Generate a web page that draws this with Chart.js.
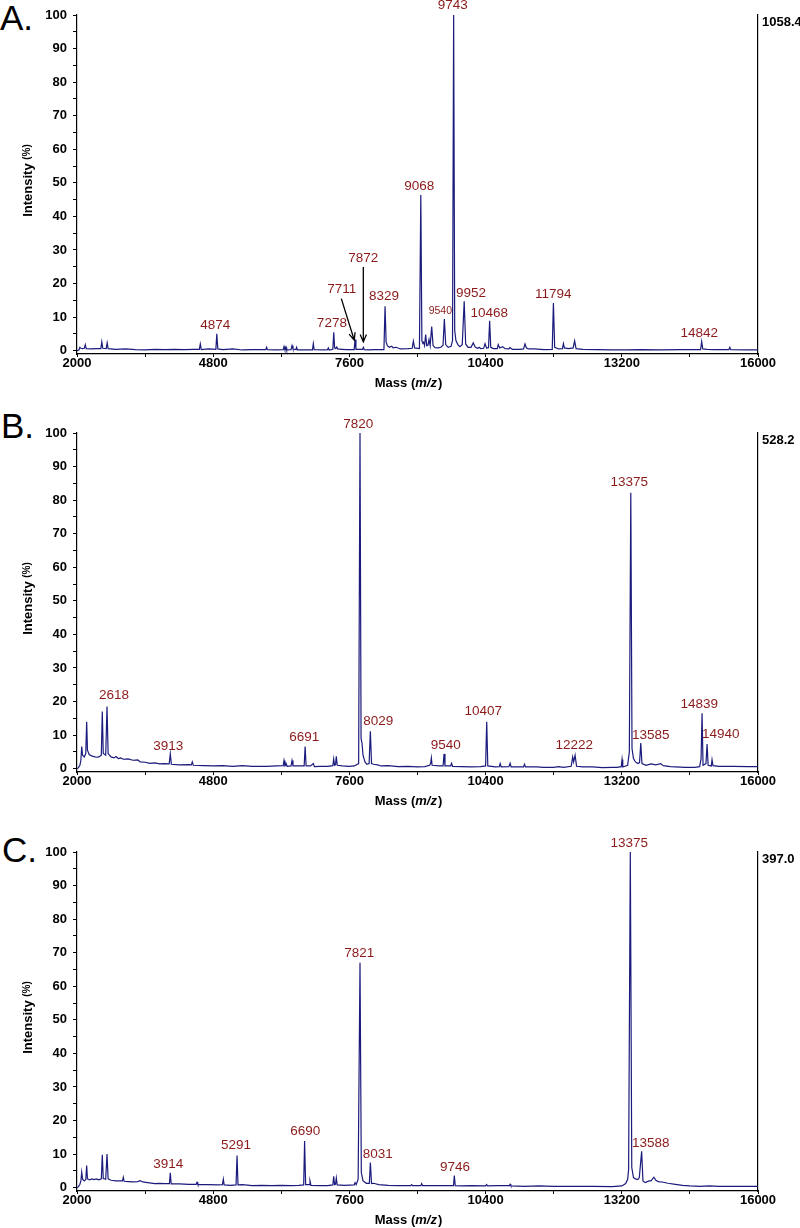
<!DOCTYPE html>
<html>
<head>
<meta charset="utf-8">
<script src="https://cdn.jsdelivr.net/npm/chart.js@4.4.1/dist/chart.umd.min.js"></script>
<style>
  html, body { margin: 0; padding: 0; background: #fff; width: 800px; height: 1228px; overflow: hidden; }
  .panel { position: absolute; left: 0; width: 800px; height: 418px; }
  .letter { position: absolute; left: 0; font: 35px "Liberation Sans", Arial, sans-serif; line-height: 35px; color: #000; }
</style>
</head>
<body>
<div class="letter" style="top:0px">A.</div>
<div class="letter" style="top:408px;left:1px">B.</div>
<div class="letter" style="top:832px;left:2px">C.</div>
<div class="panel" style="top:0px"><canvas id="cA" width="800" height="418"></canvas></div>
<div class="panel" style="top:418px"><canvas id="cB" width="800" height="418"></canvas></div>
<div class="panel" style="top:837px"><canvas id="cC" width="800" height="418"></canvas></div>
<script>
// ---- axis ticks ----
const xTickValues = [2000, 3400, 4800, 6200, 7600, 9000, 10400, 11800, 13200, 14600, 16000];
const xTickLabels = [2000, 4800, 7600, 10400, 13200, 16000];
const yTickValues = [0, 5, 10, 15, 20, 25, 30, 35, 40, 45, 50, 55, 60, 65, 70, 75, 80, 85, 90, 95, 100];
const yTickLabels = [0, 10, 20, 30, 40, 50, 60, 70, 80, 90, 100];

// ---- spectrum A: [mass, intensity %] ----
const spectrumA = [[2000,0],[2040,0.2],[2060,1.0],[2080,0.7],[2120,0.6],[2150,0.7],[2170,1.8],[2190,0.6],[2300,0.5],[2400,0.6],[2490,0.6],[2510,2.6],[2530,0.7],[2600,0.6],[2620,2.3],[2640,0.6],[2800,0.4],[3000,0.5],[3200,0.3],[3400,0.2],[3600,0.4],[3800,0.3],[4000,0.4],[4200,0.3],[4400,0.4],[4515,0.4],[4535,2.0],[4555,0.3],[4700,0.5],[4855,0.4],[4874,5.0],[4895,0.5],[5000,0.3],[5200,0.5],[5400,0.2],[5600,0.3],[5880,0.3],[5898,1.0],[5915,0.3],[6100,0.2],[6240,0.3],[6256,1.2],[6272,0.3],[6285,0.3],[6297,1.0],[6310,0.2],[6400,0.3],[6420,1.5],[6440,0.5],[6500,0.3],[6515,1.0],[6530,0.2],[6700,0.2],[6840,0.2],[6858,2.1],[6875,0.3],[7100,0.2],[7150,0.3],[7167,0.8],[7185,0.2],[7260,0.4],[7278,5.5],[7296,0.8],[7320,0.6],[7340,1.1],[7360,0.5],[7450,0.4],[7550,0.3],[7698,0.3],[7716,3.3],[7734,0.4],[7870,0.4],[7888,1.0],[7906,0.3],[8000,0.2],[8100,0.3],[8200,0.3],[8310,0.3],[8333,13.2],[8355,2.5],[8380,1.5],[8420,1.0],[8470,1.3],[8500,0.8],[8560,1.0],[8650,0.5],[8800,0.6],[8890,0.7],[8915,2.8],[8940,0.8],[9040,0.6],[9068,46.4],[9090,3.0],[9110,2.2],[9125,2.5],[9145,1.5],[9168,4.8],[9190,1.5],[9215,1.6],[9237,3.3],[9260,1.5],[9292,7.2],[9320,1.5],[9360,0.9],[9420,0.8],[9480,1.0],[9525,1.6],[9552,9.4],[9580,1.8],[9630,1.0],[9690,1.3],[9720,3.0],[9743,100],[9765,6.0],[9790,3.0],[9830,1.8],[9870,1.2],[9920,1.8],[9960,14.7],[9990,2.0],[10040,1.0],[10100,1.0],[10146,2.3],[10190,1.0],[10240,0.7],[10270,1.0],[10300,0.6],[10360,0.7],[10388,2.1],[10420,0.8],[10460,0.9],[10483,8.9],[10506,1.0],[10560,0.6],[10640,0.6],[10660,1.8],[10690,0.8],[10750,1.2],[10800,0.6],[10880,0.5],[10900,0.9],[10950,0.4],[11100,0.4],[11180,0.5],[11210,2.0],[11240,0.8],[11280,0.5],[11400,0.5],[11600,0.3],[11770,0.4],[11794,14.2],[11820,1.0],[11900,0.5],[11980,0.6],[12000,2.1],[12020,0.8],[12100,0.6],[12200,0.8],[12230,2.9],[12260,0.6],[12400,0.4],[12700,0.3],[13000,0.2],[13300,0.2],[13600,0.3],[14000,0.2],[14400,0.3],[14820,0.3],[14842,2.7],[14865,0.5],[14950,0.4],[15100,0.3],[15400,0.3],[15420,1.0],[15440,0.3],[15800,0.2],[16000,0.2]];

// ---- spectrum B ----
const spectrumB = [[2000,0],[2030,0.3],[2060,1.0],[2080,2.5],[2097,6.6],[2115,4.0],[2150,3.5],[2180,4.5],[2199,14.0],[2215,5.5],[2250,4.2],[2300,3.8],[2350,3.6],[2400,3.4],[2450,3.5],[2500,4.0],[2520,17.0],[2540,4.5],[2590,4.0],[2617,18.5],[2640,4.5],[2700,3.5],[2760,3.2],[2800,3.6],[2850,3.0],[2900,3.2],[2950,2.8],[3050,2.9],[3150,2.5],[3250,2.6],[3300,2.0],[3400,1.9],[3500,1.6],[3600,1.7],[3700,1.4],[3800,1.5],[3895,1.4],[3918,4.4],[3940,1.3],[4100,1.1],[4300,1.2],[4350,1.1],[4370,2.0],[4390,1.0],[4600,0.9],[4800,0.8],[5000,0.9],[5200,0.7],[5400,0.9],[5600,0.7],[5900,0.7],[6100,0.8],[6240,0.9],[6256,2.4],[6275,0.8],[6290,1.0],[6300,1.5],[6320,0.7],[6400,0.8],[6420,2.4],[6440,0.8],[6670,0.8],[6690,6.6],[6710,0.8],[6800,0.8],[6858,1.5],[6880,0.6],[7000,0.7],[7150,0.7],[7260,0.9],[7277,2.9],[7295,1.0],[7315,1.2],[7331,3.7],[7350,1.0],[7450,0.8],[7600,0.7],[7700,0.8],[7790,1.5],[7818,100],[7840,9.0],[7860,7.5],[7880,4.0],[7920,2.0],[7960,1.3],[8005,1.5],[8031,11.1],[8055,1.5],[8100,1.3],[8180,1.1],[8250,0.8],[8400,0.9],[8600,0.6],[8800,0.7],[9000,0.5],[9150,0.6],[9250,1.0],[9270,1.6],[9285,3.2],[9300,1.0],[9450,0.8],[9525,0.8],[9546,4.4],[9565,0.8],[9680,0.8],[9700,1.6],[9720,0.7],[9900,0.6],[10100,0.5],[10300,0.6],[10400,0.8],[10423,14.0],[10445,0.8],[10600,0.5],[10680,0.6],[10700,1.5],[10720,0.5],[10880,0.6],[10904,1.6],[10925,0.5],[11180,0.5],[11200,1.3],[11220,0.5],[11450,0.5],[11600,0.4],[11800,0.4],[11900,0.6],[12000,0.4],[12160,0.7],[12190,3.5],[12210,2.0],[12240,4.0],[12270,0.7],[12400,0.5],[12600,0.5],[12800,0.3],[13000,0.4],[13100,0.4],[13190,0.6],[13205,2.7],[13220,0.5],[13320,1.0],[13355,5.0],[13385,82.2],[13410,6.0],[13440,3.0],[13480,2.0],[13530,1.5],[13565,1.8],[13590,7.6],[13615,1.5],[13700,1.0],[13800,1.4],[13900,1.1],[14000,1.5],[14050,0.9],[14200,0.6],[14500,0.4],[14700,0.4],[14800,0.6],[14830,3.0],[14850,16.5],[14870,1.0],[14930,1.5],[14953,7.3],[14975,1.0],[15040,0.8],[15055,2.7],[15075,0.9],[15200,0.7],[15500,0.7],[15800,0.6],[16000,0.6]];

// ---- spectrum C ----
const spectrumC = [[2000,0],[2030,0.3],[2060,1.0],[2080,2.0],[2097,4.6],[2115,2.5],[2150,2.0],[2180,2.4],[2199,6.6],[2215,2.6],[2260,2.3],[2300,2.6],[2350,2.4],[2400,2.6],[2450,2.3],[2500,2.6],[2520,9.8],[2540,2.7],[2590,2.5],[2617,10.0],[2640,2.6],[2700,2.2],[2800,2.0],[2935,2.0],[2952,3.1],[2970,1.9],[3050,1.8],[3150,1.7],[3250,1.8],[3300,2.1],[3350,1.7],[3450,1.5],[3600,1.2],[3700,1.3],[3800,1.2],[3900,1.2],[3918,4.4],[3936,1.1],[4100,1.1],[4300,1.0],[4450,1.0],[4467,1.6],[4485,0.9],[4700,0.9],[4900,0.8],[4990,0.9],[5008,2.5],[5025,0.8],[5150,0.7],[5270,0.8],[5290,9.6],[5310,0.8],[5400,0.9],[5600,0.6],[5800,0.7],[6000,0.6],[6200,0.7],[6400,0.6],[6560,0.7],[6660,0.8],[6679,13.9],[6700,0.9],[6770,0.9],[6790,2.0],[6810,0.7],[7000,0.6],[7150,0.6],[7260,0.8],[7277,3.4],[7295,0.9],[7315,1.0],[7331,2.9],[7350,0.8],[7500,0.7],[7700,0.8],[7716,1.5],[7740,0.9],[7780,2.5],[7818,67],[7845,4.5],[7880,2.0],[7950,1.3],[8010,1.3],[8031,7.5],[8055,1.2],[8100,1.3],[8200,0.9],[8400,0.7],[8600,0.6],[8860,0.6],[8880,0.9],[8900,0.6],[9070,0.6],[9086,1.2],[9105,0.6],[9300,0.6],[9500,0.6],[9740,0.6],[9757,3.6],[9775,0.6],[9900,0.5],[10100,0.6],[10400,0.5],[10420,0.9],[10440,0.5],[10650,0.6],[10890,0.6],[10904,1.0],[10920,0.5],[11200,0.4],[11500,0.5],[11800,0.4],[12200,0.4],[12600,0.4],[13000,0.3],[13200,0.5],[13280,1.2],[13320,2.5],[13340,5.4],[13375,100],[13405,6.0],[13440,3.0],[13480,2.6],[13530,2.4],[13560,3.0],[13608,10.8],[13635,2.0],[13680,1.5],[13760,2.0],[13800,2.0],[13860,3.1],[13900,2.2],[13950,1.8],[14050,1.6],[14150,1.3],[14300,1.0],[14450,0.7],[14600,0.5],[14800,0.4],[15000,0.5],[15200,0.4],[15600,0.4],[16000,0.4]];

// ---- peak annotations: [text, mass at label centre, intensity at label centre, small?] ----
const peakLabelsA = [['4874',4843,7.7],['7278',7240,8.2],['7711',7442,18.2],['7872',7886,27.6],['8329',8311,16.2],['9068',9037,48.9],['9743',9724,102.8],['9540',9469,11.7,1],['9952',10100,17.0],['10468',10476,11.2],['11794',11792,16.9],['14842',14793,5.3]];
const peakLabelsB = [['2618',2761,21.8],['3913',3877,6.6],['6691',6673,9.3],['7820',7783,102.7],['8029',8194,14.0],['9540',9580,7.1],['10407',10353,17.2],['12222',12224,7.1],['13375',13354,85.2],['13585',13794,9.9],['14839',14793,19.3],['14940',15233,10.3]];
const peakLabelsC = [['3914',3877,6.9],['5291',5269,12.5],['6690',6693,16.9],['7821',7804,69.8],['8031',8182,9.8],['9746',9771,6.1],['13375',13354,102.6],['13588',13794,13.2]];
// arrows: [massFrom, intFrom, massTo, intTo]
const arrowsA = [[7434,15.5,7700,3.1],[7886,24.9,7886,2.6]];

// right-hand absolute intensity labels
const maxIntensity = ['1058.4', '528.2', '397.0'];

const FONT = '"Liberation Sans", Arial, sans-serif';
const LINE_COLOR = '#1b1b7d';
const LABEL_COLOR = '#8b1a1a';

function annotPlugin(labels, arrows, rightText) {
  return {
    id: 'annot',
    afterDraw(chart) {
      const ctx = chart.ctx, xs = chart.scales.x, ys = chart.scales.y, a = chart.chartArea;
      ctx.save();
      // peak labels
      ctx.fillStyle = LABEL_COLOR;
      ctx.textAlign = 'center';
      ctx.textBaseline = 'middle';
      labels.forEach(l => {
        ctx.font = (l[3] ? '10.5px ' : '13.5px ') + FONT;
        ctx.fillText(l[0], xs.getPixelForValue(l[1]), ys.getPixelForValue(l[2]));
      });
      // arrows
      ctx.strokeStyle = '#000';
      ctx.lineWidth = 1.3;
      arrows.forEach(r => {
        const x1 = xs.getPixelForValue(r[0]), y1 = ys.getPixelForValue(r[1]);
        const x2 = xs.getPixelForValue(r[2]), y2 = ys.getPixelForValue(r[3]);
        const ang = Math.atan2(y2 - y1, x2 - x1), L = 8, w = 0.4;
        ctx.beginPath();
        ctx.moveTo(x1, y1); ctx.lineTo(x2, y2);
        ctx.moveTo(x2 - L * Math.cos(ang - w), y2 - L * Math.sin(ang - w));
        ctx.lineTo(x2, y2);
        ctx.lineTo(x2 - L * Math.cos(ang + w), y2 - L * Math.sin(ang + w));
        ctx.stroke();
      });
      // right label
      ctx.fillStyle = '#000';
      ctx.font = 'bold 13px ' + FONT;
      ctx.textAlign = 'left';
      ctx.fillText(rightText, a.right + 4, a.top + 7);
      // y title
      ctx.save();
      ctx.translate(28, (a.top + a.bottom) / 2 - 4);
      ctx.rotate(-Math.PI / 2);
      const f1 = 'bold 13px ' + FONT, f2 = 'bold 10px ' + FONT;
      ctx.font = f1; const w1 = ctx.measureText('Intensity ').width;
      ctx.font = f2; const w2 = ctx.measureText('(%)').width;
      let sx = -(w1 + w2) / 2;
      ctx.textAlign = 'left';
      ctx.font = f1; ctx.fillText('Intensity ', sx, 0);
      ctx.font = f2; ctx.fillText('(%)', sx + w1, -1);
      ctx.restore();
      // x title
      const p1 = 'Mass (', p2 = 'm/z', p3 = ')';
      const fb = 'bold 13px ' + FONT, fi = 'italic bold 13px ' + FONT;
      ctx.font = fb; const a1 = ctx.measureText(p1).width, a3 = ctx.measureText(p3).width;
      ctx.font = fi; const a2 = ctx.measureText(p2).width;
      let tx = 408 - (a1 + a2 + a3) / 2, ty = a.bottom + 29;
      ctx.textBaseline = 'middle';
      ctx.font = fb; ctx.fillText(p1, tx, ty);
      ctx.font = fi; ctx.fillText(p2, tx + a1, ty);
      ctx.font = fb; ctx.fillText(p3, tx + a1 + a2 + 1, ty);
      ctx.restore();
    }
  };
}

function makeChart(id, spectrum, labels, arrows, rightText) {
  return new Chart(document.getElementById(id), {
    type: 'scatter',
    data: { datasets: [{ data: spectrum, showLine: true, borderColor: LINE_COLOR, borderWidth: 1.2, pointRadius: 0, tension: 0, clip: 3 }] },
    options: {
      responsive: false, animation: false, devicePixelRatio: 1,
      layout: { padding: { top: 15, left: 0, right: 0, bottom: 0 } },
      plugins: { legend: { display: false }, tooltip: { enabled: false } },
      scales: {
        x: {
          type: 'linear', min: 2000, max: 16000,
          afterBuildTicks: s => { s.ticks = xTickValues.map(v => ({ value: v })); },
          afterFit: s => { s.height = 64; },
          grid: { drawOnChartArea: false, drawTicks: true, tickLength: 3, color: '#000' },
          border: { display: true, color: '#000', width: 1.2 },
          ticks: { autoSkip: false, maxRotation: 0, padding: -1, color: '#000', font: { family: FONT, size: 13, weight: 'bold' },
                   callback: v => xTickLabels.includes(v) ? String(v) : '' }
        },
        y: {
          type: 'linear', position: 'left', min: -1, max: 100,
          afterBuildTicks: s => { s.ticks = yTickValues.map(v => ({ value: v })); },
          afterFit: s => { s.width = 77; },
          grid: { drawOnChartArea: false, drawTicks: true, tickLength: 4, color: '#000' },
          border: { display: true, color: '#000', width: 1.2 },
          ticks: { autoSkip: false, padding: 6, color: '#000', font: { family: FONT, size: 13, weight: 'bold' },
                   callback: v => yTickLabels.includes(v) ? String(v) : '' }
        },
        y2: {
          type: 'linear', position: 'right', min: -1, max: 100,
          afterFit: s => { s.width = 42; },
          grid: { display: false },
          border: { display: true, color: '#000', width: 1.2 },
          ticks: { display: false }
        }
      }
    },
    plugins: [annotPlugin(labels, arrows, rightText)]
  });
}

makeChart('cA', spectrumA, peakLabelsA, arrowsA, maxIntensity[0]);
makeChart('cB', spectrumB, peakLabelsB, [], maxIntensity[1]);
makeChart('cC', spectrumC, peakLabelsC, [], maxIntensity[2]);
</script>
</body>
</html>
